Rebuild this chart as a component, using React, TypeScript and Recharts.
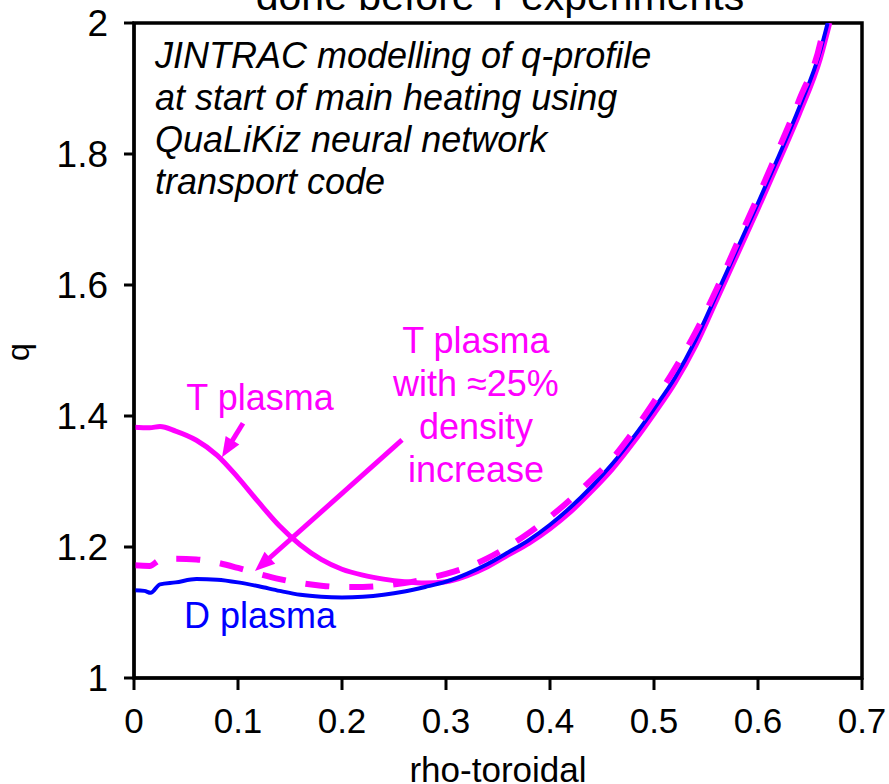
import React from 'react';
import {
  LineChart,
  Line,
  XAxis,
  YAxis,
  ReferenceArea,
  ReferenceDot,
  ReferenceLine,
} from 'recharts';

const FONT = '"Liberation Sans", Arial, sans-serif';
const MAGENTA = '#FF00FF';
const BLUE = '#0000FF';

// Axis ticks
const xTicks = [0, 0.1, 0.2, 0.3, 0.4, 0.5, 0.6, 0.7];
const yTicks = [1, 1.2, 1.4, 1.6, 1.8, 2];

// D plasma q-profile
const dRho = [0, 0.01, 0.016, 0.025, 0.04, 0.06, 0.08, 0.1, 0.12, 0.14, 0.16, 0.18, 0.2, 0.22, 0.24, 0.26, 0.28, 0.3, 0.32, 0.34, 0.36, 0.38, 0.4, 0.42, 0.44, 0.46, 0.48, 0.5, 0.52, 0.54, 0.56, 0.58, 0.6, 0.62, 0.64, 0.66, 0.667];
const dQ = [1.134, 1.133, 1.130, 1.143, 1.146, 1.151, 1.150, 1.146, 1.140, 1.133, 1.127, 1.124, 1.123, 1.124, 1.127, 1.132, 1.139, 1.147, 1.159, 1.174, 1.192, 1.211, 1.234, 1.261, 1.292, 1.327, 1.367, 1.411, 1.458, 1.516, 1.585, 1.655, 1.725, 1.797, 1.872, 1.958, 2.0];

// T plasma q-profile
const tRho = [0, 0.015, 0.025, 0.04, 0.06, 0.08, 0.1, 0.12, 0.14, 0.16, 0.18, 0.2, 0.22, 0.24, 0.26, 0.28, 0.3, 0.32, 0.34, 0.36, 0.38, 0.4, 0.42, 0.44, 0.46, 0.48, 0.5, 0.52, 0.54, 0.56, 0.58, 0.6, 0.62, 0.64, 0.66, 0.669];
const tQ = [1.383, 1.382, 1.384, 1.377, 1.363, 1.340, 1.306, 1.268, 1.232, 1.203, 1.181, 1.166, 1.157, 1.151, 1.147, 1.145, 1.147, 1.156, 1.170, 1.188, 1.206, 1.228, 1.254, 1.285, 1.319, 1.359, 1.403, 1.45, 1.507, 1.576, 1.646, 1.716, 1.788, 1.862, 1.946, 2.0];

// T plasma with ~25% density increase
const nRho = [0, 0.015, 0.025, 0.04, 0.06, 0.08, 0.1, 0.12, 0.14, 0.16, 0.18, 0.2, 0.22, 0.24, 0.26, 0.28, 0.3, 0.32, 0.34, 0.36, 0.38, 0.4, 0.42, 0.44, 0.46, 0.48, 0.5, 0.52, 0.54, 0.56, 0.58, 0.6, 0.62, 0.64, 0.66, 0.664];
const nQ = [1.172, 1.171, 1.180, 1.182, 1.181, 1.176, 1.168, 1.159, 1.151, 1.145, 1.141, 1.139, 1.139, 1.141, 1.145, 1.151, 1.159, 1.169, 1.183, 1.201, 1.222, 1.246, 1.273, 1.303, 1.335, 1.376, 1.422, 1.472, 1.528, 1.593, 1.664, 1.735, 1.808, 1.884, 1.97, 2.0];

// Annotation text
const noteLines = [
  'JINTRAC modelling of q-profile',
  'at start of main heating using',
  'QuaLiKiz neural network',
  'transport code',
];
const densityLines = ['T plasma', 'with \u224825%', 'density', 'increase'];

const toPoints = (xs: number[], ys: number[]) => xs.map((x, i) => ({ x, q: ys[i] }));
const dData = toPoints(dRho, dQ);
const tData = toPoints(tRho, tQ);
const nData = toPoints(nRho, nQ);

const arrowShape = (props: any) => {
  const { x1, y1, x2, y2 } = props;
  const dx = x2 - x1;
  const dy = y2 - y1;
  const len = Math.hypot(dx, dy) || 1;
  const ux = dx / len;
  const uy = dy / len;
  const headLen = 20;
  const headHalf = 8;
  const bx = x2 - ux * headLen;
  const by = y2 - uy * headLen;
  const px = -uy;
  const py = ux;
  const pts = `${x2},${y2} ${bx + px * headHalf},${by + py * headHalf} ${bx - px * headHalf},${by - py * headHalf}`;
  return (
    <g>
      <line x1={x1} y1={y1} x2={bx + ux * 2} y2={by + uy * 2} stroke={MAGENTA} strokeWidth={5} />
      <polygon points={pts} fill={MAGENTA} />
    </g>
  );
};

const textShape = (lines: string[], color: string, anchor: 'start' | 'middle', italic: boolean, spacing: number) =>
  (props: any) => (
    <text
      x={props.cx}
      y={props.cy}
      fill={color}
      fontSize={36}
      fontFamily={FONT}
      fontStyle={italic ? 'italic' : 'normal'}
      textAnchor={anchor}
    >
      {lines.map((l, i) => (
        <tspan key={i} x={props.cx} dy={i === 0 ? 0 : spacing}>
          {l}
        </tspan>
      ))}
    </text>
  );

export default function App() {
  return (
    <div style={{ position: 'absolute', left: 0, top: 0, width: 889, height: 784, background: '#fff', overflow: 'hidden' }}>
      <LineChart width={889} height={784} margin={{ top: 23, right: 27, bottom: 0, left: 0 }}>
        <XAxis
          type="number"
          dataKey="x"
          domain={[0, 0.7]}
          ticks={xTicks}
          allowDataOverflow
          height={106}
          tickSize={12}
          tickMargin={18}
          axisLine={{ stroke: '#000', strokeWidth: 3 }}
          tickLine={{ stroke: '#000', strokeWidth: 3 }}
          tick={{ fill: '#000', fontSize: 35, fontFamily: FONT }}
          label={{ value: 'rho-toroidal', position: 'insideBottom', offset: 2, fill: '#000', fontSize: 35, fontFamily: FONT }}
        />
        <YAxis
          type="number"
          dataKey="q"
          domain={[1, 2]}
          ticks={yTicks}
          allowDataOverflow
          width={134}
          tickSize={10}
          tickMargin={16}
          axisLine={{ stroke: '#000', strokeWidth: 3 }}
          tickLine={{ stroke: '#000', strokeWidth: 3 }}
          tick={{ fill: '#000', fontSize: 37, fontFamily: FONT }}
        />
        <ReferenceArea x1={0} x2={0.7} y1={1} y2={2} fill="none" stroke="#000" strokeWidth={3.5} ifOverflow="visible" />

        <Line data={tData} dataKey="q" type="monotone" stroke={MAGENTA} strokeWidth={5} dot={false} isAnimationActive={false} />
        <Line data={dData} dataKey="q" type="monotone" stroke={BLUE} strokeWidth={4} dot={false} isAnimationActive={false} />
        <Line data={nData} dataKey="q" type="monotone" stroke={MAGENTA} strokeWidth={6} strokeDasharray="24 20" dot={false} isAnimationActive={false} />

        <ReferenceLine segment={[{ x: 0.1048, y: 1.389 }, { x: 0.0846, y: 1.337 }]} shape={arrowShape} ifOverflow="visible" />
        <ReferenceLine segment={[{ x: 0.2577, y: 1.3634 }, { x: 0.1163, y: 1.1634 }]} shape={arrowShape} ifOverflow="visible" />

        <ReferenceDot x={0.0202} y={1.9313} r={0} ifOverflow="visible" shape={textShape(noteLines, '#000', 'start', true, 42)} />
        <ReferenceDot x={0.1212} y={1.409} r={0} ifOverflow="visible" shape={textShape(['T plasma'], MAGENTA, 'middle', false, 43)} />
        <ReferenceDot x={0.3288} y={1.4962} r={0} ifOverflow="visible" shape={textShape(densityLines, MAGENTA, 'middle', false, 43)} />
        <ReferenceDot x={0.1212} y={1.0763} r={0} ifOverflow="visible" shape={textShape(['D plasma'], BLUE, 'middle', false, 43)} />
      </LineChart>
      <svg width={889} height={784} style={{ position: 'absolute', left: 0, top: 0, pointerEvents: 'none' }}>
        <text x={500} y={10} textAnchor="middle" fontSize={41} fontFamily={FONT} fill="#000">
          done before T experiments
        </text>
        <text transform="translate(29,352) rotate(-90)" textAnchor="middle" fontSize={32} fontFamily={FONT} fill="#000">
          q
        </text>
      </svg>
    </div>
  );
}
